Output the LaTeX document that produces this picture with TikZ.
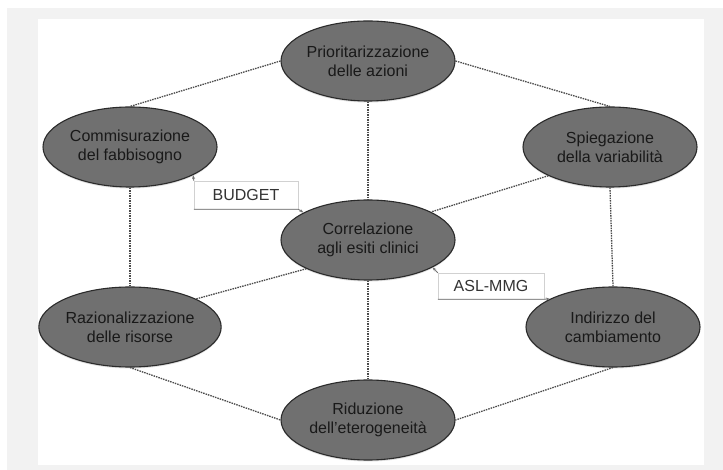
\documentclass[tikz,border=0pt]{standalone}
\usepackage{fontspec}
\setmainfont{Liberation Sans}
\usetikzlibrary{arrows.meta,shapes.geometric,shadows}
\definecolor{bubblegray}{HTML}{707070}
\definecolor{rimgray}{HTML}{2B2B2B}
\definecolor{linkgray}{HTML}{4A4A4A}
\definecolor{framegray}{HTML}{F2F2F2}

\begin{document}
\begin{tikzpicture}[x=1pt,y=-1pt,
    bubble/.style={ellipse,draw=rimgray,line width=1.1pt,fill=bubblegray,minimum width=174pt,minimum height=80pt,inner sep=0pt,align=center,text=black!90,font=\fontsize{16}{19}\selectfont,drop shadow={opacity=0.25,shadow xshift=0pt,shadow yshift=-1.5pt}},
    link/.style={draw=linkgray,line width=1.3pt,dash pattern=on 1.5pt off 1pt},
    tag/.style={rectangle,draw=black!18,fill=white,minimum width=104pt,minimum height=28pt,inner sep=0pt,font=\fontsize{16}{19}\selectfont,text=black!80,drop shadow={opacity=0.15,shadow xshift=1pt,shadow yshift=-1pt}},
    tagarrow/.style={draw=black!55,line width=0.8pt,-{Stealth[length=4pt,width=3pt]}}]
    \useasboundingbox (0,0) rectangle (723,470);
    \fill[framegray] (7,8) rectangle (723,470);
    \fill[white] (38,19) rectangle (704,465);
    \node[bubble] (prio) at (368,61) {Prioritarizzazione\\delle azioni};
    \node[bubble] (comm) at (130,147) {Commisurazione\\del fabbisogno};
    \node[bubble] (spieg) at (610,147) {Spiegazione\\della variabilità};
    \node[bubble] (corr) at (368,240) {Correlazione\\agli esiti clinici};
    \node[bubble] (raz) at (130,327) {Razionalizzazione\\delle risorse};
    \node[bubble] (indir) at (613,327) {Indirizzo del\\cambiamento};
    \node[bubble] (rid) at (368,420) {Riduzione\\dell’eterogeneità};
    \draw[link] (prio.west) -- (comm.north);
    \draw[link] (prio.east) -- (spieg.north);
    \draw[link] (prio.south) -- (corr.north);
    \draw[link] (comm.south) -- (raz.north);
    \draw[link] (spieg.south) -- (indir.north);
    \draw[link] (spieg.205) -- (corr.24);
    \draw[link] (corr.205) -- (raz.23);
    \draw[link] (corr.south) -- (rid.north);
    \draw[link] (raz.south) -- (rid.west);
    \draw[link] (indir.south) -- (rid.east);
    \node[tag] (budget) at (246,195) {BUDGET};
    \node[tag,minimum width=106pt,minimum height=26pt] (asl) at (491,286) {ASL-MMG};
    \draw[tagarrow] (budget.north west) -- (comm.-24);
    \draw[tagarrow] (budget.south west) -- (budget.south east) -- (corr.157);
    \draw[tagarrow] (asl.north west) -- (corr.-23);
    \draw[tagarrow] (asl.south west) -- (asl.south east) -- (indir.156);
  \end{tikzpicture}
\end{document}
